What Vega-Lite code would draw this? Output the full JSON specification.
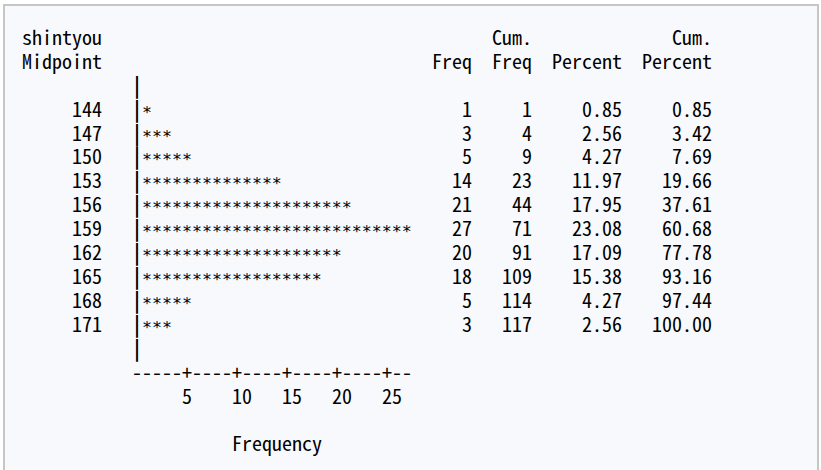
{
  "$schema": "https://vega.github.io/schema/vega-lite/v6.json",
  "width": 821,
  "height": 470,
  "autosize": {"type": "fit", "contains": "padding"},
  "padding": {"left": 4, "top": 5, "right": 3, "bottom": -2},
  "background": "white",
  "datasets": {
    "hist": [
      {"midpoint": 144, "freq": 1, "cumfreq": 1, "percent": 0.85, "cumpercent": 0.85},
      {"midpoint": 147, "freq": 3, "cumfreq": 4, "percent": 2.56, "cumpercent": 3.42},
      {"midpoint": 150, "freq": 5, "cumfreq": 9, "percent": 4.27, "cumpercent": 7.69},
      {"midpoint": 153, "freq": 14, "cumfreq": 23, "percent": 11.97, "cumpercent": 19.66},
      {"midpoint": 156, "freq": 21, "cumfreq": 44, "percent": 17.95, "cumpercent": 37.61},
      {"midpoint": 159, "freq": 27, "cumfreq": 71, "percent": 23.08, "cumpercent": 60.68},
      {"midpoint": 162, "freq": 20, "cumfreq": 91, "percent": 17.09, "cumpercent": 77.78},
      {"midpoint": 165, "freq": 18, "cumfreq": 109, "percent": 15.38, "cumpercent": 93.16},
      {"midpoint": 168, "freq": 5, "cumfreq": 114, "percent": 4.27, "cumpercent": 97.44},
      {"midpoint": 171, "freq": 3, "cumfreq": 117, "percent": 2.56, "cumpercent": 100.0}
    ],
    "ticks": [{"tick": 5}, {"tick": 10}, {"tick": 15}, {"tick": 20}, {"tick": 25}]
  },
  "config": {
    "view": {"fill": "#f8f9fd", "stroke": "#c6c6c6", "strokeWidth": 2},
    "text": {"font": "Noto Sans Mono CJK JP, monospace", "fontSize": 20, "baseline": "alphabetic", "color": "#000000"}
  },
  "layer": [
    {
      "data": {"name": "hist"},
      "mark": {"type": "text", "align": "right"},
      "encoding": {
        "x": {"datum": -3, "type": "quantitative", "scale": {"domain": [-12.8, 68.6], "nice": false, "zero": false}, "axis": null},
        "y": {"field": "midpoint", "type": "quantitative", "scale": {"domain": [129.98, 188.597], "reverse": true, "nice": false, "zero": false}, "axis": null},
        "text": {"field": "midpoint", "type": "quantitative", "format": "d"}
      }
    },
    {
      "data": {"name": "hist"},
      "mark": {"type": "text", "align": "center", "text": "|", "fontWeight": "bold", "color": "#000000"},
      "encoding": {
        "x": {"datum": 0.5, "type": "quantitative"},
        "y": {"field": "midpoint", "type": "quantitative"}
      }
    },
    {
      "data": {"name": "hist"},
      "transform": [{"calculate": "pad('', datum.freq, '*')", "as": "stars"}],
      "mark": {"type": "text", "align": "left", "font": "DejaVu Sans Mono", "fontSize": 16.6, "dy": 1},
      "encoding": {
        "x": {"datum": 1, "type": "quantitative"},
        "y": {"field": "midpoint", "type": "quantitative"},
        "text": {"field": "stars", "type": "nominal"}
      }
    },
    {
      "data": {"name": "hist"},
      "mark": {"type": "text", "align": "right"},
      "encoding": {
        "x": {"datum": 34, "type": "quantitative"},
        "y": {"field": "midpoint", "type": "quantitative"},
        "text": {"field": "freq", "type": "quantitative", "format": "d"}
      }
    },
    {
      "data": {"name": "hist"},
      "mark": {"type": "text", "align": "right"},
      "encoding": {
        "x": {"datum": 40, "type": "quantitative"},
        "y": {"field": "midpoint", "type": "quantitative"},
        "text": {"field": "cumfreq", "type": "quantitative", "format": "d"}
      }
    },
    {
      "data": {"name": "hist"},
      "mark": {"type": "text", "align": "right"},
      "encoding": {
        "x": {"datum": 49, "type": "quantitative"},
        "y": {"field": "midpoint", "type": "quantitative"},
        "text": {"field": "percent", "type": "quantitative", "format": ".2f"}
      }
    },
    {
      "data": {"name": "hist"},
      "mark": {"type": "text", "align": "right"},
      "encoding": {
        "x": {"datum": 58, "type": "quantitative"},
        "y": {"field": "midpoint", "type": "quantitative"},
        "text": {"field": "cumpercent", "type": "quantitative", "format": ".2f"}
      }
    },
    {
      "data": {"values": [{}]},
      "mark": {"type": "text", "align": "left", "text": "shintyou"},
      "encoding": {"x": {"datum": -11, "type": "quantitative"}, "y": {"datum": 135, "type": "quantitative"}}
    },
    {
      "data": {"values": [{}]},
      "mark": {"type": "text", "align": "left", "text": "Midpoint"},
      "encoding": {"x": {"datum": -11, "type": "quantitative"}, "y": {"datum": 138, "type": "quantitative"}}
    },
    {
      "data": {"values": [{}]},
      "mark": {"type": "text", "align": "right", "text": "Freq"},
      "encoding": {"x": {"datum": 34, "type": "quantitative"}, "y": {"datum": 138, "type": "quantitative"}}
    },
    {
      "data": {"values": [{}]},
      "mark": {"type": "text", "align": "right", "text": "Cum."},
      "encoding": {"x": {"datum": 40, "type": "quantitative"}, "y": {"datum": 135, "type": "quantitative"}}
    },
    {
      "data": {"values": [{}]},
      "mark": {"type": "text", "align": "right", "text": "Freq"},
      "encoding": {"x": {"datum": 40, "type": "quantitative"}, "y": {"datum": 138, "type": "quantitative"}}
    },
    {
      "data": {"values": [{}]},
      "mark": {"type": "text", "align": "right", "text": "Percent"},
      "encoding": {"x": {"datum": 49, "type": "quantitative"}, "y": {"datum": 138, "type": "quantitative"}}
    },
    {
      "data": {"values": [{}]},
      "mark": {"type": "text", "align": "right", "text": "Cum."},
      "encoding": {"x": {"datum": 58, "type": "quantitative"}, "y": {"datum": 135, "type": "quantitative"}}
    },
    {
      "data": {"values": [{}]},
      "mark": {"type": "text", "align": "right", "text": "Percent"},
      "encoding": {"x": {"datum": 58, "type": "quantitative"}, "y": {"datum": 138, "type": "quantitative"}}
    },
    {
      "data": {"values": [{}]},
      "mark": {"type": "text", "align": "center", "text": "|", "fontWeight": "bold", "color": "#000000"},
      "encoding": {"x": {"datum": 0.5, "type": "quantitative"}, "y": {"datum": 141, "type": "quantitative"}}
    },
    {
      "data": {"values": [{}]},
      "mark": {"type": "text", "align": "center", "text": "|", "fontWeight": "bold", "color": "#000000"},
      "encoding": {"x": {"datum": 0.5, "type": "quantitative"}, "y": {"datum": 174, "type": "quantitative"}}
    },
    {
      "data": {"values": [{}]},
      "mark": {"type": "text", "align": "left", "text": "-----+----+----+----+----+--"},
      "encoding": {"x": {"datum": 0, "type": "quantitative"}, "y": {"datum": 177, "type": "quantitative"}}
    },
    {
      "data": {"name": "ticks"},
      "mark": {"type": "text", "align": "left"},
      "encoding": {
        "x": {"field": "tick", "type": "quantitative"},
        "y": {"datum": 180, "type": "quantitative"},
        "text": {"field": "tick", "type": "quantitative", "format": "d"}
      }
    },
    {
      "data": {"values": [{}]},
      "mark": {"type": "text", "align": "left", "text": "Frequency"},
      "encoding": {"x": {"datum": 10, "type": "quantitative"}, "y": {"datum": 186, "type": "quantitative"}}
    }
  ]
}
